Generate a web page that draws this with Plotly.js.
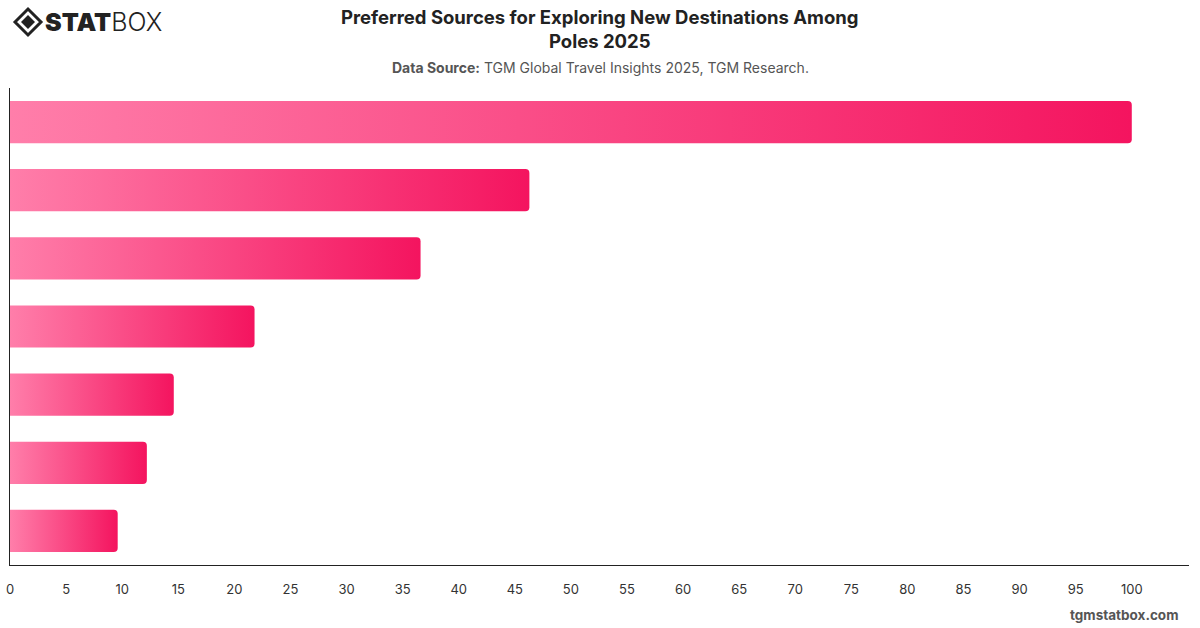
<!DOCTYPE html>
<html>
<head>
<meta charset="utf-8">
<script src="https://cdn.plot.ly/plotly-3.0.1.min.js"></script>
<style>
  html, body { margin: 0; padding: 0; background: #fff; }
  #chart { width: 1200px; height: 628px; }
</style>
</head>
<body>
<div id="chart"></div>
<script>
// Data (categories are not labelled in the reference; order top to bottom)
const categories = [
  "Source 1", "Source 2", "Source 3", "Source 4", "Source 5", "Source 6", "Source 7"
];
const values = [100, 46.3, 36.6, 21.8, 14.6, 12.2, 9.6];
const xTicks = [0, 5, 10, 15, 20, 25, 30, 35, 40, 45, 50, 55, 60, 65, 70, 75, 80, 85, 90, 95, 100];

const trace = {
  type: "bar",
  orientation: "h",
  x: values,
  y: categories,
  marker: { color: "#f5166a", cornerradius: 4, line: { width: 0 } },
  hoverinfo: "x+y"
};

const px = x => (x - 10) / 1179;
const py = y => 1 - (y - 88) / 477;

const layout = {
  width: 1200,
  height: 628,
  margin: { l: 10, r: 11, t: 88, b: 63 },
  paper_bgcolor: "#ffffff",
  plot_bgcolor: "#ffffff",
  font: { family: "Inter, 'Liberation Sans', sans-serif", color: "#333" },
  showlegend: false,
  bargap: 0.38,
  xaxis: {
    range: [0, 105.1],
    tickvals: xTicks,
    ticktext: xTicks.map(String),
    showgrid: false,
    zeroline: false,
    showline: true,
    linecolor: "#222",
    linewidth: 1,
    ticks: "",
    ticklen: 0,
    ticklabelstandoff: 12,
    tickfont: { size: 13, color: "#333" },
    fixedrange: true
  },
  yaxis: {
    autorange: "reversed",
    showticklabels: false,
    showgrid: false,
    zeroline: false,
    showline: true,
    linecolor: "#222",
    linewidth: 1,
    ticks: "",
    fixedrange: true
  },
  annotations: [
    {
      text: "<b>Preferred Sources for Exploring New Destinations Among<br>Poles 2025</b>",
      xref: "paper", yref: "paper",
      x: px(600), xanchor: "center",
      y: py(29), yanchor: "middle",
      showarrow: false,
      font: { size: 18.5, color: "#222" }
    },
    {
      text: "<b>Data Source:</b> TGM Global Travel Insights 2025, TGM Research.",
      xref: "paper", yref: "paper",
      x: px(600), xanchor: "center",
      y: py(67), yanchor: "middle",
      showarrow: false,
      font: { size: 14, color: "#555" }
    },
    {
      text: "<span style=\"font-weight:900\">STAT</span><span style=\"font-weight:300\">BOX</span>",
      xref: "paper", yref: "paper",
      x: px(43), xanchor: "left",
      y: py(22), yanchor: "middle",
      showarrow: false,
      font: { size: 25, color: "#222", family: "Inter, 'Liberation Sans', sans-serif" }
    },
    {
      text: "<b>tgmstatbox.com</b>",
      xref: "paper", yref: "paper",
      x: px(1180), xanchor: "right",
      y: py(615), yanchor: "middle",
      showarrow: false,
      font: { size: 13.5, color: "#555" }
    }
  ],
  shapes: [
    // logo icon: outer diamond outline and inner filled diamond
    {
      type: "path", xref: "paper", yref: "paper",
      path: "M" + px(15) + "," + py(22) + " L" + px(28) + "," + py(9) + " L" + px(41) + "," + py(22) + " L" + px(28) + "," + py(35) + " Z",
      line: { color: "#222", width: 3 }, fillcolor: "rgba(0,0,0,0)"
    },
    {
      type: "path", xref: "paper", yref: "paper",
      path: "M" + px(21) + "," + py(22) + " L" + px(28) + "," + py(15) + " L" + px(35) + "," + py(22) + " L" + px(28) + "," + py(29) + " Z",
      line: { color: "#222", width: 0 }, fillcolor: "#222"
    }
  ]
};

function applyGradient() {
  const svg = document.querySelector("#chart .main-svg");
  if (!svg) return;
  const ns = "http://www.w3.org/2000/svg";
  let defs = svg.querySelector("defs");
  if (!defs) { defs = document.createElementNS(ns, "defs"); svg.insertBefore(defs, svg.firstChild); }
  if (!svg.querySelector("#barGrad")) {
    const g = document.createElementNS(ns, "linearGradient");
    g.setAttribute("id", "barGrad");
    g.setAttribute("x1", "0"); g.setAttribute("y1", "0");
    g.setAttribute("x2", "1"); g.setAttribute("y2", "0");
    const s1 = document.createElementNS(ns, "stop");
    s1.setAttribute("offset", "0"); s1.setAttribute("stop-color", "#ff7eaa");
    const s2 = document.createElementNS(ns, "stop");
    s2.setAttribute("offset", "1"); s2.setAttribute("stop-color", "#f4145f");
    g.appendChild(s1); g.appendChild(s2);
    defs.appendChild(g);
  }
  document.querySelectorAll("#chart .bars .point path").forEach(p => {
    p.style.fill = "url(#barGrad)";
  });
}

Plotly.newPlot("chart", [trace], layout, { displayModeBar: false, staticPlot: true }).then(applyGradient);
</script>
</body>
</html>
